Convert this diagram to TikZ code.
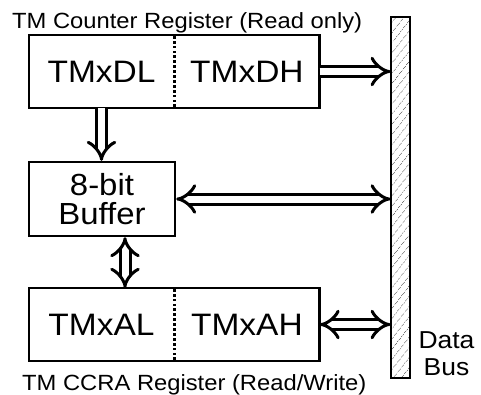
\documentclass[tikz,border=0pt]{standalone}
\usepackage{fontspec}
\setmainfont{Liberation Sans}[FakeStretch=1.08]
\usetikzlibrary{arrows.meta,patterns.meta,positioning}

\begin{document}
\begin{tikzpicture}[x=1pt,y=-1pt,
  half/.style={minimum width=145pt,minimum height=73pt,inner sep=0pt,font=\fontsize{31}{34}\selectfont},
  frame/.style={line width=2.3pt},
  wide/.style={draw=black,double=white,double distance=7pt,line width=3pt},
  head/.tip={Implies[scale=1.2]},
  caption/.style={anchor=base west,inner sep=0pt,font=\fontsize{22}{24}\selectfont}]
\useasboundingbox (0,0) rectangle (481,394);

% data bus
\node[draw,line width=2pt,minimum width=19pt,minimum height=361pt,inner sep=0pt,
  pattern={Lines[angle=52,distance=6.5pt,line width=0.8pt]},pattern color=black!55] (bus) at (400.5,197.5) {};
\node[align=center,inner sep=0pt,font=\fontsize{24.5}{27}\selectfont] (buslabel) at (446.5,354) {Data\\Bus};

% counter register
\node[half] (dl) at (101.5,71.5) {TMxDL};
\node[half,right=0pt of dl] (dh) {TMxDH};
\draw[frame] (dl.north west) rectangle (dh.south east);
\foreach \k in {0,...,14}
  \fill (dl.north east) ++(-1.3,{1+4.9*\k}) rectangle ++(2.6,2.8);
\node[caption] (cntlabel) at (12,28) {TM Counter Register (Read only)};

% buffer
\node[draw,frame,minimum width=146pt,minimum height=74pt,inner sep=0pt,align=center,
  font=\fontsize{30.5}{29}\selectfont] (buf) at (102,199) {8-bit\\Buffer};

% capture register
\node[half] (al) at (101.5,324.5) {TMxAL};
\node[half,right=0pt of al] (ah) {TMxAH};
\draw[frame] (al.north west) rectangle (ah.south east);
\foreach \k in {0,...,14}
  \fill (al.north east) ++(-1.3,{1+4.9*\k}) rectangle ++(2.6,2.8);
\node[caption] (ccrlabel) at (22,390.5) {TM CCRA Register (Read/Write)};

% transfers
\draw[wide,-head] (dh.east) -- (bus.west |- dh.east);
\draw[wide,-head] (dl.south) -- (dl.south |- buf.north);
\draw[wide,head-head] (buf.east) -- (bus.west |- buf.east);
\draw[wide,head-head] ([xshift=23pt]buf.south) -- ([xshift=23pt]buf.south |- al.north);
\draw[wide,head-head] (ah.east) -- (bus.west |- ah.east);
\end{tikzpicture}
\end{document}
